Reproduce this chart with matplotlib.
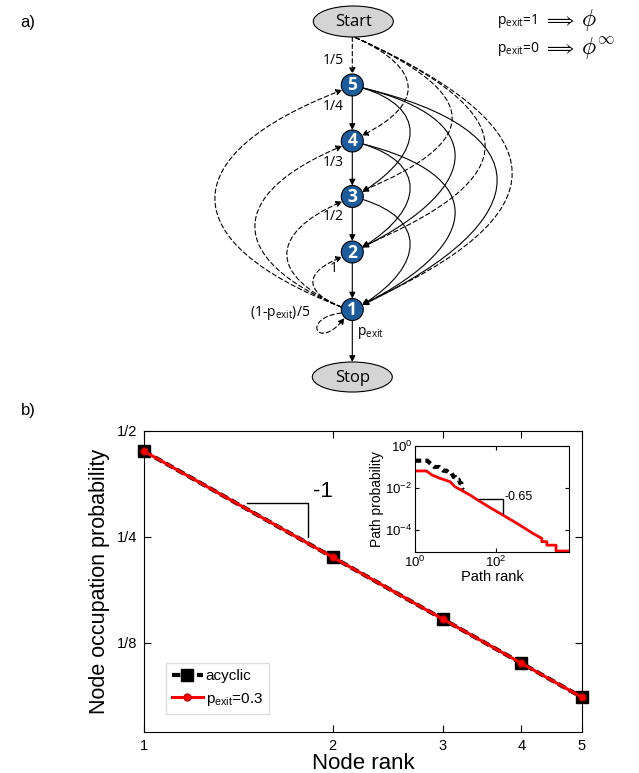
import numpy as np
import matplotlib
matplotlib.use('Agg')
import matplotlib.pyplot as plt
from matplotlib.patches import Circle, Ellipse, FancyArrowPatch
from matplotlib.path import Path

plt.rcParams['font.family'] = ['Liberation Sans', 'DejaVu Sans']

# ---- data, panel b (main) ----
node_rank = [1, 2, 3, 4, 5]
node_labels = ['1', '2', '3', '4', '5']
occ_acyclic = [0.438, 0.219, 0.146, 0.1095, 0.0876]
occ_pexit = [0.438, 0.219, 0.146, 0.1095, 0.0876]
occ_ticks = [0.125, 0.25, 0.5]
occ_ticklabels = ['1/8', '1/4', '1/2']

# ---- data, inset ----
path_rank_acyclic = list(range(1, 17))
path_prob_acyclic = [0.2, 0.2, 0.1, 0.1, 0.0667, 0.0667, 0.05, 0.05,
                     0.0333, 0.0333, 0.025, 0.025, 0.0167, 0.0167, 0.0083, 0.0083]
path_rank_pexit = [1, 1.9, 2.6, 4.1, 7.3, 9.7, 13.7, 22.8, 40, 75, 151, 300, 500, 800,
                   1343, 1343, 1786, 1786, 3020, 3020, 6300]
path_prob_pexit = [0.065, 0.065, 0.042, 0.029, 0.020, 0.0115, 0.008, 0.0046, 0.0023,
                   0.0011, 5.0e-4, 2.3e-4, 1.25e-4, 7.0e-5,
                   4.0e-5, 2.8e-5, 2.8e-5, 1.9e-5, 1.9e-5, 1.0e-5, 1.0e-5]

fig = plt.figure(figsize=(6.39, 7.73), dpi=100)

# ---------------- panel a: diagram (pixel coords) ----------------
ax0 = fig.add_axes([0, 0, 1, 1])
ax0.set_xlim(0, 639)
ax0.set_ylim(773, 0)
ax0.axis('off')

dfont = 'Open Sans'
xc = 352.3
node_y = {5: 85, 4: 141, 3: 196.5, 2: 252, 1: 309.5}
r = 11

for k, yy in node_y.items():
    ax0.add_patch(Circle((xc, yy), r, fc='#1d5c9c', ec='k', lw=0.8, zorder=3))
    ax0.text(xc, yy + 0.5, str(k), color='w', fontweight='bold', fontsize=12.5,
             ha='center', va='center', zorder=4, family=dfont)

ax0.add_patch(Ellipse((xc + 1, 21.5), 80, 31, fc='#d4d4d4', ec='k', lw=0.8, zorder=3))
ax0.text(xc + 1, 22, 'Start', fontsize=12, ha='center', va='center', zorder=4, family=dfont)
ax0.add_patch(Ellipse((xc, 377), 80, 30, fc='#d4d4d4', ec='k', lw=0.8, zorder=3))
ax0.text(xc, 377.5, 'Stop', fontsize=12, ha='center', va='center', zorder=4, family=dfont)

dash = (0, (4, 2.5))


def arrow(p0, p1, ls='-'):
    ax0.add_patch(FancyArrowPatch(p0, p1, arrowstyle='-|>', mutation_scale=9, lw=0.8,
                                  ls=ls, color='k', shrinkA=0, shrinkB=0, zorder=2))


def curve(p0, p1, p2, p3, ls='-'):
    pth = Path([p0, p1, p2, p3], [Path.MOVETO, Path.CURVE4, Path.CURVE4, Path.CURVE4])
    ax0.add_patch(FancyArrowPatch(path=pth, arrowstyle='-|>', mutation_scale=9, lw=0.8,
                                  ls=ls, color='k', zorder=2))


# straight arrows
arrow((xc, 37), (xc, node_y[5] - r), ls=dash)
for i in [5, 4, 3, 2]:
    arrow((xc, node_y[i] + r), (xc, node_y[i - 1] - r))
arrow((xc, node_y[1] + r), (xc, 362))

# solid skip arcs on the right
bulge_solid = {2: 410, 3: 455, 4: 497}
for i in [5, 4, 3]:
    for j in range(1, i - 1):
        yi, yj = node_y[i], node_y[j]
        p0 = (xc + 10.5, yi + 3)
        p3 = (xc + 10, yj - 4.5)
        c = (bulge_solid[i - j] - 0.125 * (p0[0] + p3[0])) / 0.75
        dy = yj - yi
        curve(p0, (c, yi + 0.2 * dy), (c, yj - 0.4 * dy), p3)

# dashed arcs from Start on the right
bulge_start = {4: 408, 3: 452, 2: 485, 1: 512}
for j in [4, 3, 2, 1]:
    yj = node_y[j]
    p0 = (xc + 3, 37.5)
    p3 = (xc + 9.5, yj - 5.5)
    c = (bulge_start[j] - 0.125 * (p0[0] + p3[0])) / 0.75
    dy = yj - 37.5
    curve(p0, (c, 37.5 + 0.45 * (c - p0[0])), (c, yj - 0.35 * dy), p3, ls=dash)

# dashed arcs from node 1 back up on the left
bulge_left = {5: 215, 4: 255, 3: 287, 2: 313}
for j in [5, 4, 3, 2]:
    yj = node_y[j]
    p0 = (xc - 11, 307)
    p3 = (xc - 10, yj + 5)
    c = (bulge_left[j] - 0.125 * (p0[0] + p3[0])) / 0.75
    dist = 307 - (yj + 5)
    curve(p0, (c, 307 - 0.3 * dist), (c, yj + 5 + 0.3 * dist), p3, ls=dash)

# self loop on node 1
curve((xc - 11, 313), (300, 318), (318, 352), (344.5, 318), ls=dash)

# edge labels
for lab, yy in [('1/5', 60), ('1/4', 107), ('1/3', 163), ('1/2', 217)]:
    ax0.text(333, yy, lab, fontsize=10, ha='center', va='center', family=dfont)
ax0.text(334, 269, '1', fontsize=10, ha='center', va='center', family=dfont)
ax0.text(310, 313, '(1-p$_\\mathregular{exit}$)/5', fontsize=10, ha='right', va='center', family=dfont)
ax0.text(357, 333, 'p$_\\mathregular{exit}$', fontsize=10, ha='left', va='center', family=dfont)

# top right
for yy, val, sym in [(21, '1', r'$\phi$'), (49, '0', r'$\phi^{\infty}$')]:
    ax0.text(497, yy, 'p$_\\mathregular{exit}$=' + val, fontsize=10, ha='left', va='center', family=dfont)
    ax0.text(543, yy, r'$\Longrightarrow$', fontsize=12.5, ha='left', va='center', math_fontfamily='cm')
    ax0.text(581, yy - 1, sym, fontsize=17, ha='left', va='center', math_fontfamily='cm')

ax0.text(28, 22, 'a)', fontsize=12, ha='center', va='center')
ax0.text(28, 410, 'b)', fontsize=12, ha='center', va='center')

# ---------------- panel b: main plot ----------------
ax = fig.add_axes([144 / 639, 41 / 773, 438 / 639, 301 / 773])
ax.set_xscale('log')
ax.set_yscale('log')
ax.plot(node_rank, occ_acyclic, color='k', ls=(0, (2, 1)), lw=3, marker='s', ms=8,
        mfc='k', mec='k', label='acyclic', clip_on=False, zorder=3)
ax.plot(node_rank, occ_pexit, color='r', lw=2.2, marker='o', ms=5, mfc='r', mec='#c00000',
        label='p$_\\mathregular{exit}$=0.3', clip_on=False, zorder=4)

# slope -1 guide
ax.plot([1.46, 1.83, 1.83], [0.312, 0.312, 0.25], color='k', lw=1)
ax.text(1.86, 0.314, '-1', fontsize=16, ha='left', va='bottom')

ax.set_xlim(1, 5)
ax.set_ylim(0.0698, 0.5)
ax.set_xticks(node_rank)
ax.set_xticklabels(node_labels)
ax.set_yticks(occ_ticks)
ax.set_yticklabels(occ_ticklabels)
ax.minorticks_off()
ax.tick_params(direction='in', top=True, right=True, length=5, labelsize=10.5, pad=5)
ax.set_xlabel('Node rank', fontsize=16, labelpad=0)
ax.set_ylabel('Node occupation probability', fontsize=15.5, labelpad=5)
ax.legend(loc='lower left', bbox_to_anchor=(0.05, 0.06), frameon=True, fancybox=False,
          edgecolor='#e0e0e0', fontsize=11, handlelength=2, borderaxespad=0,
          handletextpad=0.2, framealpha=1)

# ---------------- inset ----------------
axi = fig.add_axes([415 / 639, 221 / 773, 154 / 639, 106 / 773])
axi.set_xscale('log')
axi.set_yscale('log')
axi.plot(path_rank_acyclic, path_prob_acyclic, color='k', ls=(0, (1.5, 1)), lw=3)
axi.plot(path_rank_pexit, path_prob_pexit, color='r', lw=2)
axi.plot([38.7, 151, 151], [0.003, 0.003, 6.3e-4], color='k', lw=1)
axi.text(166, 0.0039, '-0.65', fontsize=9, ha='left', va='center')
axi.set_xlim(1, 6300)
axi.set_ylim(9e-6, 1)
axi.set_xticks([1, 100])
axi.set_yticks([1, 1e-2, 1e-4])
axi.minorticks_off()
axi.tick_params(direction='in', top=True, right=True, length=3, labelsize=9.5, pad=2)
axi.set_xlabel('Path rank', fontsize=10.5, labelpad=0)
axi.set_ylabel('Path probability', fontsize=10, labelpad=1)

fig.savefig('out.png', dpi=100)
